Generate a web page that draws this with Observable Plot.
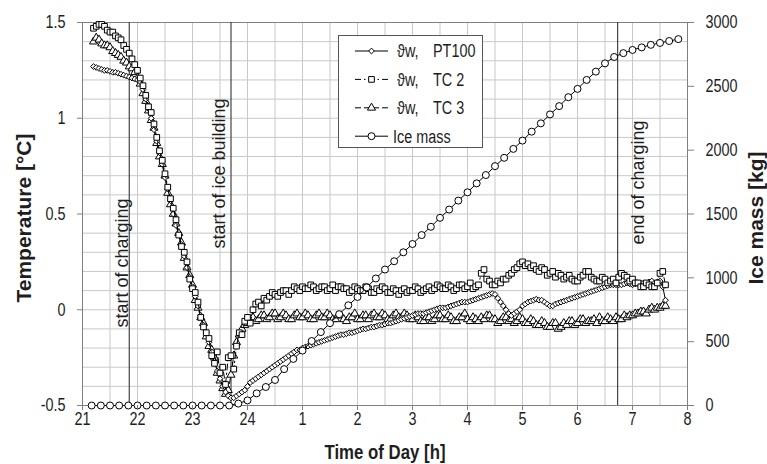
<!DOCTYPE html>
<html><head><meta charset="utf-8">
<script src="https://cdn.jsdelivr.net/npm/d3@7"></script>
<script src="https://cdn.jsdelivr.net/npm/@observablehq/plot@0.6"></script>
<style>
html,body{margin:0;padding:0;background:#fff;}
#chart{width:767px;height:464px;overflow:hidden;}
</style></head><body><div id="chart"></div>
<script>
// ---- data ----
const tempStart = 21.2, tempStep = 0.05;   // sample times [h], 21.2 ... 31.6 (31 = 7 h next day)
const pt100 = [
  1.27,1.265,1.26,1.255,1.25,1.25,1.245,1.24,1.24,1.235,
  1.23,1.225,1.22,1.215,1.21,1.205,1.20,1.19,1.15,1.10,
  1.05,1.00,0.94,0.88,0.82,0.76,0.69,0.63,0.57,0.50,
  0.44,0.39,0.34,0.28,0.22,0.17,0.12,0.07,0.02,-0.03,
  -0.08,-0.12,-0.17,-0.22,-0.27,-0.32,-0.36,-0.40,-0.43,-0.45,
  -0.46,-0.46,-0.45,-0.44,-0.43,-0.42,-0.40,-0.38,-0.37,-0.36,
  -0.35,-0.34,-0.33,-0.32,-0.31,-0.30,-0.29,-0.28,-0.27,-0.26,
  -0.25,-0.24,-0.23,-0.22,-0.21,-0.21,-0.20,-0.195,-0.19,-0.185,
  -0.18,-0.175,-0.17,-0.165,-0.16,-0.155,-0.15,-0.145,-0.14,-0.135,
  -0.13,-0.13,-0.125,-0.12,-0.12,-0.115,-0.11,-0.105,-0.10,-0.10,
  -0.095,-0.09,-0.09,-0.085,-0.08,-0.08,-0.075,-0.07,-0.07,-0.065,
  -0.06,-0.055,-0.05,-0.045,-0.04,-0.035,-0.03,-0.025,-0.02,-0.02,
  -0.02,-0.015,-0.01,-0.005,0.00,0.005,0.01,0.01,0.01,0.015,
  0.02,0.025,0.03,0.035,0.04,0.04,0.04,0.045,0.05,0.055,
  0.06,0.065,0.07,0.075,0.08,0.085,0.08,0.06,0.04,0.02,
  0.00,-0.02,-0.03,-0.02,-0.01,0.00,0.02,0.03,0.04,0.045,
  0.05,0.055,0.05,0.05,0.04,0.03,0.02,0.02,0.03,0.035,
  0.04,0.045,0.05,0.055,0.06,0.065,0.07,0.075,0.08,0.085,
  0.09,0.095,0.10,0.105,0.11,0.115,0.12,0.125,0.13,0.13,
  0.13,0.13,0.13,0.135,0.14,0.135,0.13,0.135,0.14,0.14,
  0.14,0.14,0.145,0.15,0.14,0.145,0.15,0.12,0.05
];
const tc2 = [
  1.47,1.48,1.49,1.49,1.48,1.46,1.45,1.45,1.43,1.42,
  1.41,1.38,1.36,1.34,1.31,1.28,1.25,1.21,1.17,1.12,
  1.06,1.03,0.97,0.90,0.83,0.78,0.71,0.64,0.58,0.53,
  0.47,0.39,0.33,0.30,0.25,0.16,0.11,0.09,0.04,-0.04,
  -0.09,-0.12,-0.15,-0.24,-0.28,-0.22,-0.33,-0.30,-0.39,-0.25,
  -0.24,-0.31,-0.19,-0.12,-0.13,-0.06,-0.04,-0.07,0.00,0.03,
  0.04,0.02,0.06,0.05,0.07,0.09,0.08,0.07,0.09,0.10,
  0.10,0.08,0.10,0.12,0.11,0.10,0.12,0.11,0.11,0.13,
  0.12,0.10,0.11,0.12,0.12,0.10,0.11,0.13,0.10,0.12,
  0.12,0.11,0.11,0.09,0.10,0.12,0.11,0.10,0.10,0.12,
  0.11,0.09,0.09,0.11,0.10,0.12,0.11,0.09,0.09,0.11,
  0.10,0.08,0.10,0.11,0.09,0.10,0.10,0.12,0.11,0.09,
  0.10,0.11,0.12,0.10,0.11,0.13,0.12,0.11,0.11,0.13,
  0.12,0.10,0.11,0.13,0.13,0.11,0.12,0.14,0.11,0.12,
  0.13,0.19,0.21,0.16,0.15,0.13,0.13,0.15,0.14,0.16,
  0.16,0.18,0.19,0.21,0.22,0.24,0.25,0.23,0.24,0.22,
  0.23,0.21,0.20,0.22,0.21,0.18,0.19,0.20,0.17,0.19,
  0.18,0.16,0.17,0.18,0.16,0.15,0.15,0.17,0.18,0.20,
  0.20,0.17,0.16,0.15,0.15,0.17,0.16,0.14,0.15,0.16,
  0.14,0.17,0.19,0.18,0.17,0.15,0.16,0.14,0.14,0.12,
  0.12,0.14,0.13,0.12,0.12,0.14,0.19,0.20,0.13
];
const tc3 = [
  1.40,1.42,1.41,1.39,1.38,1.38,1.37,1.35,1.34,1.33,
  1.32,1.30,1.29,1.27,1.26,1.24,1.21,1.18,1.13,1.09,
  1.04,0.99,0.95,0.87,0.80,0.76,0.70,0.61,0.55,0.50,
  0.45,0.40,0.35,0.27,0.22,0.18,0.13,0.05,0.01,-0.04,
  -0.07,-0.14,-0.19,-0.21,-0.25,-0.33,-0.37,-0.41,-0.44,-0.42,
  -0.34,-0.24,-0.17,-0.13,-0.10,-0.08,-0.07,-0.05,-0.04,-0.06,
  -0.05,-0.03,-0.03,-0.05,-0.04,-0.02,-0.02,-0.05,-0.04,-0.02,
  -0.03,-0.05,-0.05,-0.03,-0.02,-0.04,-0.04,-0.02,-0.03,-0.05,
  -0.05,-0.03,-0.02,-0.04,-0.04,-0.02,-0.03,-0.05,-0.05,-0.03,
  -0.03,-0.05,-0.06,-0.04,-0.04,-0.02,-0.05,-0.05,-0.03,-0.03,
  -0.05,-0.03,-0.02,-0.04,-0.04,-0.02,-0.03,-0.05,-0.05,-0.03,
  -0.02,-0.04,-0.04,-0.02,-0.03,-0.05,-0.05,-0.03,-0.04,-0.06,
  -0.06,-0.04,-0.04,-0.06,-0.05,-0.03,-0.03,-0.05,-0.05,-0.03,
  -0.04,-0.06,-0.06,-0.04,-0.04,-0.02,-0.05,-0.06,-0.04,-0.05,
  -0.06,-0.04,-0.05,-0.03,-0.03,-0.05,-0.05,-0.07,-0.06,-0.04,
  -0.04,-0.06,-0.05,-0.07,-0.06,-0.04,-0.05,-0.07,-0.07,-0.05,
  -0.06,-0.08,-0.08,-0.06,-0.07,-0.09,-0.09,-0.07,-0.07,-0.10,
  -0.09,-0.07,-0.08,-0.06,-0.06,-0.08,-0.07,-0.05,-0.05,-0.07,
  -0.06,-0.06,-0.05,-0.07,-0.04,-0.06,-0.06,-0.04,-0.05,-0.06,
  -0.04,-0.05,-0.05,-0.03,-0.04,-0.03,-0.03,-0.02,-0.02,-0.01,
  -0.01,-0.02,0.00,0.01,0.00,0.01,0.01,0.02,0.02
];
const iceStart = 21 + 1/6, iceStep = 1/6;  // 10-minute samples
const iceMass = [
  0,0,0,0,0,0,0,0,0,0,0,0,0,0,0,0,
  15,40,95,145,200,285,365,430,505,575,
  645,715,785,850,925,995,1065,1130,1200,1265,
  1335,1400,1470,1535,1605,1670,1740,1805,1875,1940,
  2010,2075,2145,2210,2280,2345,2415,2480,2550,2615,
  2680,2730,2760,2785,2805,2825,2840,2855,2870
];
const xTicks = [21,22,23,24,25,26,27,28,29,30,31,32];
const xTickLabels = ["21","22","23","24","1","2","3","4","5","6","7","8"];
const tempTicks = [-0.5,0,0.5,1,1.5];
const massTicks = [0,500,1000,1500,2000,2500,3000];
const events = [
  {t:21.85, label:"start of charging"},
  {t:23.7,  label:"start of ice building"},
  {t:30.73, label:"end of charging"}
];
const seriesNames = ["PT100","TC 2","TC 3","Ice mass"];

// ---- helpers ----
const toTemp = m => -0.5 + m / 1500;   // right axis: 0 kg ↔ -0.5 °C, 3000 kg ↔ 1.5 °C
const rows = (vals) => vals.map((v, i) => ({t: +(tempStart + i * tempStep).toFixed(4), v}));
const ptRows = rows(pt100), tc2Rows = rows(tc2), tc3Rows = rows(tc3);
const iceRows = iceMass.map((m, i) => ({t: iceStart + i * iceStep, m}));

const FONT = "'Liberation Sans', Arial, Helvetica, sans-serif";
const W = 767, H = 464, mL = 82, mR = 80, mT = 22, mB = 59;
const dashTC2 = "6,3,1.5,3", dashTC3 = "6,3";
const gridColor = "#c8c8c8";
const ink = "#1e1e1e";

const plot = Plot.plot({
  width: W, height: H,
  marginLeft: mL, marginRight: mR, marginTop: mT, marginBottom: mB,
  style: {fontFamily: FONT, fontSize: "18px", color: ink, background: "white"},
  x: {domain: [21, 32]},
  y: {domain: [-0.5, 1.5]},
  marks: [
    Plot.gridX(d3.range(21, 32.001, 0.5), {stroke: gridColor, strokeOpacity: 1}),
    Plot.gridY(d3.range(-5, 16).map(k => k / 10), {stroke: gridColor, strokeOpacity: 1}),
    Plot.frame({stroke: "#808080"}),
    Plot.ruleX(events, {x: "t", stroke: "#333", strokeWidth: 1.1}),
    Plot.text([events[0]], {x: "t", text: "label", frameAnchor: "top", rotate: -90, textAnchor: "end", dx: -14, dy: 176, fontSize: 18, fill: ink}),
    Plot.text([events[1]], {x: "t", text: "label", frameAnchor: "top", rotate: -90, textAnchor: "end", dx: -19, dy: 76, fontSize: 18, fill: ink}),
    Plot.text([events[2]], {x: "t", text: "label", frameAnchor: "top", rotate: -90, textAnchor: "end", dx: 14, dy: 98, fontSize: 18, fill: ink}),
    // TC 3
    Plot.line(tc3Rows, {x: "t", y: "v", stroke: "#000", strokeWidth: 1, strokeDasharray: dashTC3}),
    Plot.dot(tc3Rows, {x: "t", y: "v", symbol: "triangle", r: 3.0, fill: "white", stroke: "#000", strokeWidth: 1}),
    // PT100
    Plot.line(ptRows, {x: "t", y: "v", stroke: "#000", strokeWidth: 1}),
    Plot.dot(ptRows, {x: "t", y: "v", symbol: "diamond2", r: 2.6, fill: "white", stroke: "#000", strokeWidth: 1}),
    // TC 2
    Plot.line(tc2Rows, {x: "t", y: "v", stroke: "#000", strokeWidth: 1, strokeDasharray: dashTC2}),
    Plot.dot(tc2Rows, {x: "t", y: "v", symbol: "square", r: 3.2, fill: "white", stroke: "#000", strokeWidth: 1}),
    // Ice mass (right axis)
    Plot.line(iceRows, {x: "t", y: d => toTemp(d.m), stroke: "#000", strokeWidth: 1}),
    Plot.dot(iceRows, {x: "t", y: d => toTemp(d.m), symbol: "circle", r: 3.5, fill: "white", stroke: "#000", strokeWidth: 1}),
    // axes
    Plot.axisX(xTicks, {tickFormat: d => xTickLabels[xTicks.indexOf(d)], tickSize: 5, tickPadding: 2, label: null, stroke: "#808080"}),
    Plot.axisY(tempTicks, {anchor: "left", tickFormat: d => String(d), tickSize: 5, tickPadding: 12, label: null, stroke: "#808080"}),
    Plot.axisY(massTicks.map(toTemp), {anchor: "right", tickFormat: d => String(Math.round((d + 0.5) * 1500)), tickSize: 6, tickPadding: 12, label: null, stroke: "#808080"})
  ]
});
document.getElementById("chart").appendChild(plot);

const svg = d3.select(plot);
// axis titles
svg.append("text").attr("transform", "translate(24,218) rotate(-90)").attr("text-anchor", "middle").attr("dy", "0.35em")
  .attr("font-family", FONT).attr("font-weight", "bold").attr("font-size", 21).attr("fill", ink).text("Temperature [°C]");
svg.append("text").attr("transform", "translate(756,218) rotate(-90)").attr("text-anchor", "middle").attr("dy", "0.35em")
  .attr("font-family", FONT).attr("font-weight", "bold").attr("font-size", 21).attr("fill", ink).text("Ice mass [kg]");
svg.append("text").attr("x", 385).attr("y", 459).attr("text-anchor", "middle")
  .attr("font-family", FONT).attr("font-weight", "bold").attr("font-size", 21).attr("fill", ink).text("Time of Day [h]");

// legend
const lg = svg.append("g").attr("text-anchor", "start");
lg.append("rect").attr("x", 338.5).attr("y", 35.5).attr("width", 144).attr("height", 112)
  .attr("fill", "white").attr("stroke", "#555");
const legendDefs = [
  {name: seriesNames[0], sym: d3.symbolDiamond2, r: 2.6, dash: null, greek: true},
  {name: seriesNames[1], sym: d3.symbolSquare, r: 3.2, dash: dashTC2, greek: true},
  {name: seriesNames[2], sym: d3.symbolTriangle, r: 3.0, dash: dashTC3, greek: true},
  {name: seriesNames[3], sym: d3.symbolCircle, r: 3.5, dash: null, greek: false}
];
legendDefs.forEach((d, i) => {
  const y = 51 + i * 28.4;
  lg.append("line").attr("x1", 355).attr("x2", 388).attr("y1", y).attr("y2", y)
    .attr("stroke", "#000").attr("stroke-width", 1).attr("stroke-dasharray", d.dash);
  lg.append("path").attr("transform", `translate(371.5,${y})`)
    .attr("d", d3.symbol(d.sym, Math.PI * d.r * d.r)()).attr("fill", "white").attr("stroke", "#000");
  const txt = (x, s) => lg.append("text").attr("x", x).attr("y", y).attr("dy", "0.35em").attr("text-anchor", "start")
    .attr("font-family", FONT).attr("font-size", 18).attr("fill", ink).text(s);
  if (d.greek) { txt(397, "ϑw,"); txt(433, d.name); }
  else txt(393, d.name);
});

// the reference's horizontal lettering is narrow: compress horizontal texts
plot.querySelectorAll("text").forEach(t => {
  const tr = (t.getAttribute("transform") || "") + (t.parentNode.getAttribute && (t.parentNode.getAttribute("transform") || ""));
  if (tr.includes("rotate")) return;
  const L = t.getComputedTextLength();
  if (L > 0) { t.setAttribute("textLength", (L * 0.8).toFixed(2)); t.setAttribute("lengthAdjust", "spacingAndGlyphs"); }
});
</script></body></html>
